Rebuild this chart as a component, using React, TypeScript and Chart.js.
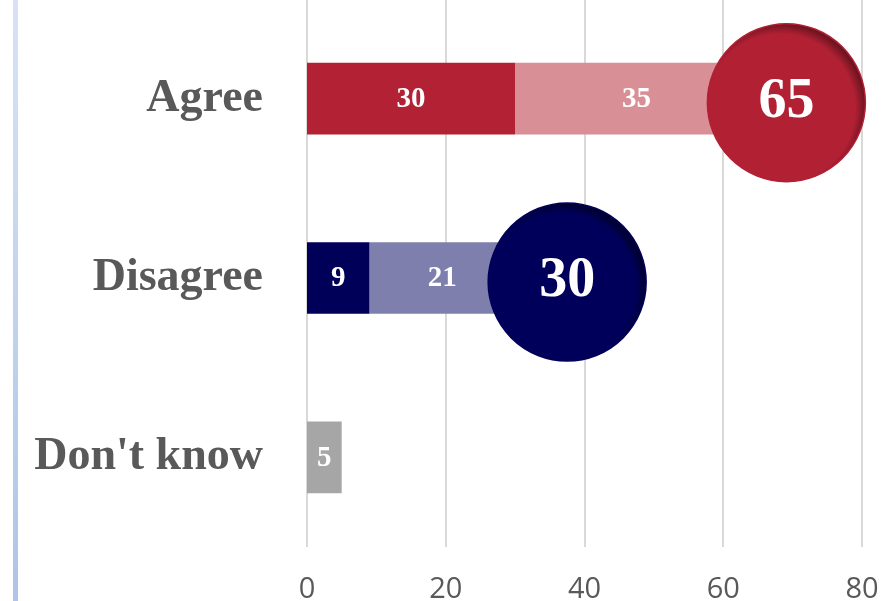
import React, { useEffect, useRef } from "react";
import { Chart, registerables } from "chart.js";

Chart.register(...registerables);

const categories = ["Agree", "Disagree", "Don't know"];
const strongValues = [30, 9, 5];
const somewhatValues = [35, 21, 0];
const totals = [65, 30, null];
const circleX = [69.1, 37.5, null];
const xTicks = [0, 20, 40, 60, 80];

const strongColors = ["#b22234", "#000058", "#a6a6a6"];
const somewhatColors = ["#d98f96", "#7f7fae", "#a6a6a6"];
const circleColors = ["#b22034", "#00005a", "#a6a6a6"];
const circleDark = ["#6e1420", "#000030", "#666666"];

const SERIF = "'Liberation Serif', 'Times New Roman', serif";
const SANS = "'Open Sans', 'Noto Sans', 'DejaVu Sans', sans-serif";

const decorPlugin = {
  id: "decor",
  beforeDraw(chart: any) {
    const ctx = chart.ctx;
    const h = chart.height;
    const g = ctx.createLinearGradient(0, 0, 0, h);
    g.addColorStop(0, "#d8e2f4");
    g.addColorStop(1, "#aec4e8");
    ctx.save();
    ctx.fillStyle = g;
    ctx.fillRect(13, 0, 5, h);
    const x = chart.scales.x;
    ctx.strokeStyle = "#d9d9d9";
    ctx.lineWidth = 2;
    xTicks.forEach((t) => {
      const px = Math.round(x.getPixelForValue(t));
      ctx.beginPath();
      ctx.moveTo(px, 0);
      ctx.lineTo(px, chart.chartArea.bottom);
      ctx.stroke();
    });
    ctx.fillStyle = "#595959";
    ctx.font = `29px ${SANS}`;
    ctx.textAlign = "center";
    ctx.textBaseline = "alphabetic";
    xTicks.forEach((t) => {
      const px = x.getPixelForValue(t);
      ctx.fillText(String(t), px, chart.chartArea.bottom + 51);
    });
    ctx.restore();
  },
  afterDatasetsDraw(chart: any) {
    const ctx = chart.ctx;
    const xs = chart.scales.x;
    const ys = chart.scales.y;
    ctx.save();
    chart.data.datasets.forEach((ds: any, di: number) => {
      const meta = chart.getDatasetMeta(di);
      meta.data.forEach((bar: any, i: number) => {
        const v = ds.data[i];
        if (!v) return;
        const cx = (bar.x + bar.base) / 2;
        ctx.fillStyle = "#ffffff";
        ctx.font = `bold 29px ${SERIF}`;
        ctx.textAlign = "center";
        ctx.textBaseline = "middle";
        ctx.fillText(String(v), cx, bar.y + 1);
      });
    });
    totals.forEach((t, i) => {
      if (t == null || circleX[i] == null) return;
      const cx = xs.getPixelForValue(circleX[i]);
      const cy = ys.getPixelForValue(i) + 4;
      const r = 79;
      const grad = ctx.createRadialGradient(cx - 6, cy + 6, 0, cx - 6, cy + 6, r + 6);
      grad.addColorStop(0, circleColors[i]);
      grad.addColorStop(0.88, circleColors[i]);
      grad.addColorStop(1, circleDark[i]);
      ctx.beginPath();
      ctx.arc(cx, cy, r, 0, Math.PI * 2);
      ctx.fillStyle = grad;
      ctx.fill();
      ctx.lineWidth = 1.5;
      ctx.strokeStyle = circleColors[i];
      ctx.stroke();
      ctx.fillStyle = "#ffffff";
      ctx.font = `bold 56px ${SERIF}`;
      ctx.textAlign = "center";
      ctx.textBaseline = "middle";
      ctx.fillText(String(t), cx, cy);
    });
    ctx.restore();
  },
};

export default function App() {
  const ref = useRef<HTMLCanvasElement>(null);
  useEffect(() => {
    document.body.style.margin = "0";
    const chart = new Chart(ref.current!, {
      type: "bar",
      data: {
        labels: categories,
        datasets: [
          {
            label: "Strong",
            data: strongValues,
            backgroundColor: strongColors,
            barPercentage: 0.4,
            categoryPercentage: 1,
          },
          {
            label: "Somewhat",
            data: somewhatValues,
            backgroundColor: somewhatColors,
            barPercentage: 0.4,
            categoryPercentage: 1,
          },
        ],
      },
      options: {
        indexAxis: "y",
        animation: false,
        responsive: false,
        maintainAspectRatio: false,
        layout: { padding: { top: 9, right: 22, left: 0, bottom: 0 } },
        plugins: { legend: { display: false }, tooltip: { enabled: false } },
        scales: {
          x: {
            stacked: true,
            min: 0,
            max: 80,
            grid: { display: false, drawTicks: false },
            border: { display: false },
            afterBuildTicks: (s: any) => {
              s.ticks = xTicks.map((v) => ({ value: v }));
            },
            ticks: { display: false },
            afterFit: (s: any) => {
              s.height = 54;
              s.paddingLeft = 0;
              s.paddingRight = 0;
              s.paddingTop = 0;
              s.paddingBottom = 0;
            },
          },
          y: {
            stacked: true,
            grid: { display: false, drawTicks: false },
            border: { display: false },
            ticks: {
              color: "#595959",
              font: { family: SERIF, size: 46, weight: "bold" },
              padding: 44,
            },
            afterFit: (s: any) => {
              s.width = 307;
              s.paddingLeft = 0;
              s.paddingRight = 0;
              s.paddingTop = 0;
              s.paddingBottom = 0;
            },
          },
        },
      },
      plugins: [decorPlugin],
    });
    return () => chart.destroy();
  }, []);
  return (
    <div style={{ position: "fixed", left: 0, top: 0, width: 884, height: 601, background: "#fff" }}>
      <canvas ref={ref} width={884} height={601} style={{ width: 884, height: 601, display: "block" }} />
    </div>
  );
}
